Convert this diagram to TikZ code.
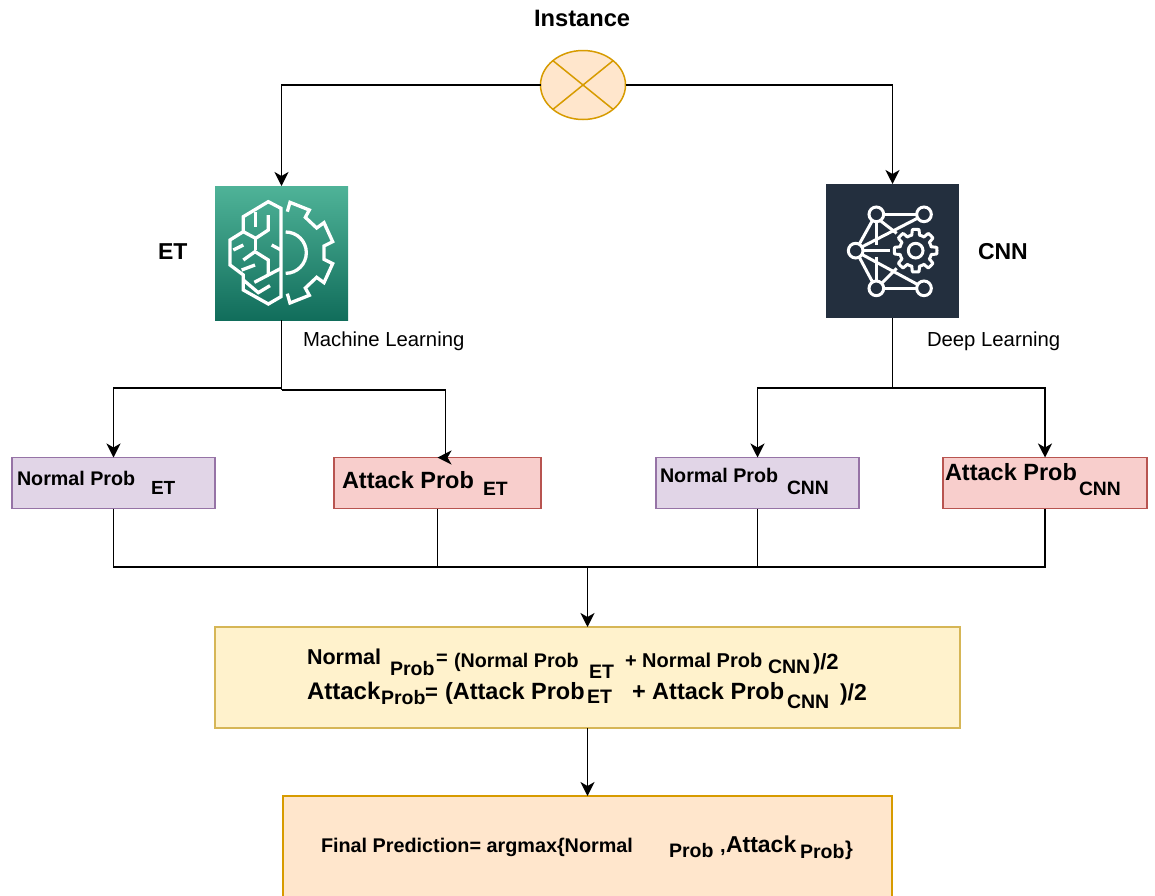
\documentclass[tikz,border=0pt]{standalone}
\usepackage{fontspec}
\setmainfont{Liberation Sans}
\usetikzlibrary{arrows.meta,shapes.geometric}
\definecolor{purpF}{HTML}{E1D5E7}\definecolor{purpD}{HTML}{9673A6}
\definecolor{redF}{HTML}{F8CECC}\definecolor{redD}{HTML}{B85450}
\definecolor{yelF}{HTML}{FFF2CC}\definecolor{yelD}{HTML}{D6B656}
\definecolor{oraF}{HTML}{FFE6CC}\definecolor{oraD}{HTML}{D79B00}
\definecolor{etTop}{HTML}{4FB398}\definecolor{etBot}{HTML}{116D5B}
\definecolor{cnnBg}{HTML}{232F3E}
% one text chunk: width of its slot, vertical offset, font size, text
\newcommand{\tc}[4]{\makebox[#1pt][l]{\raisebox{#2pt}{\fontsize{#3}{#3}\selectfont #4}}}
\tikzset{
  boxstyle/.style={rectangle,draw,line width=1.5pt,inner sep=0pt,outer sep=0pt},
  lbl/.style={anchor=base west,inner sep=0pt,outer sep=0pt,font=\bfseries},
  plain/.style={anchor=base west,inner sep=0pt,outer sep=0pt},
  conn/.style={draw=black,line width=1.9pt},
  arr/.style={conn,-{Stealth[length=14pt,width=14pt,inset=4pt]}},
  icon/.style={draw=white,line width=3pt,line join=miter,fill=none},
  iconb/.style={draw=white,line width=3.3pt,line join=miter,fill=none},
}
\begin{document}
\begin{tikzpicture}[x=1pt,y=-1pt]
\clip[use as bounding box] (0,0) rectangle (1155,895);
\fill[white] (0,0) rectangle (1155,895);

% instance
\node[ellipse,draw=oraD,fill=oraF,line width=1.5pt,minimum width=85pt,minimum height=69pt,inner sep=0pt,outer sep=0pt] (inst) at (583,85) {};
\draw[oraD,line width=1.5pt] (inst.39) -- (inst.219) (inst.141) -- (inst.321);
\node[lbl] (instT) at (534,26) {\fontsize{23.7}{23.7}\selectfont Instance};

% icons
\node[rectangle,minimum width=133pt,minimum height=134pt,inner sep=0pt,outer sep=0pt,top color=etTop,bottom color=etBot] (et) at (281.5,253) {};
\node[rectangle,minimum width=133pt,minimum height=134pt,inner sep=0pt,outer sep=0pt,fill=cnnBg] (cnn) at (892.5,251) {};

\begin{scope}[shift={(200,170)},x=0.3333pt,y=-0.3333pt]
  \draw[iconb] (243,115) -- (205,95) -- (130,140) -- (130,185) -- (90,210) -- (90,285) -- (130,315) -- (130,360) -- (205,402) -- (243,380) -- cycle;
  \draw[iconb] (130,185) -- (167,205) -- (205,180) -- (205,135);
  \draw[iconb] (167,125) -- (167,170);
  \draw[iconb] (167,205) -- (167,240);
  \draw[iconb] (100,240) -- (130,225);
  \draw[iconb] (130,270) -- (165,245) -- (205,270) -- (205,315);
  \draw[iconb] (125,300) -- (165,285);
  \draw[iconb] (163,337) -- (243,295);
  \draw[iconb] (130,330) -- (175,368) -- (210,347);
  \draw[iconb] (215,225) -- (243,240);
  \draw[iconb] (257,186) arc[start angle=-90,end angle=90,radius=62];
  \draw[iconb] (262,125) -- (270,97) -- (328,120) -- (316,142) -- (350,174) -- (372,158) -- (398,215) -- (372,228) -- (372,268) -- (398,281) -- (372,338) -- (350,322) -- (316,354) -- (328,376) -- (270,399) -- (262,371);
\end{scope}

\begin{scope}[shift={(815,170)},x=0.3333pt,y=-0.3333pt]
  \draw[icon] (206,133) -- (305,133);
  \draw[icon] (184,155) -- (184,225);
  \draw[icon] (133,222) -- (172,152);
  \draw[icon] (142,230) -- (307,145);
  \draw[icon] (196,152) -- (245,190);
  \draw[icon] (145,242) -- (225,242);
  \draw[icon] (142,254) -- (307,343);
  \draw[icon] (184,260) -- (184,333);
  \draw[icon] (200,340) -- (245,295);
  \draw[icon] (206,355) -- (305,355);
  \draw[icon] (133,262) -- (172,335);
  \draw[icon] (184,133) circle[radius=22];
  \draw[icon] (327,133) circle[radius=22];
  \draw[icon] (122,242) circle[radius=22];
  \draw[icon] (184,355) circle[radius=22];
  \draw[icon] (327,355) circle[radius=22];
  \draw[icon] (302,242) circle[radius=22];
  \draw[icon] plot[domain=0:360,samples=193,variable=\t] ({302+(56+8*max(-1,min(1,3*cos(8*\t))))*cos(\t)},{242+(56+8*max(-1,min(1,3*cos(8*\t))))*sin(\t)}) -- cycle;
\end{scope}

\node[lbl] (etT) at (158,259) {\fontsize{23}{23}\selectfont ET};
\node[lbl] (cnnT) at (978,259) {\fontsize{23}{23}\selectfont CNN};
\node[plain] (etS) at (303,346) {\fontsize{20.3}{20.3}\selectfont Machine Learning};
\node[plain] (cnnS) at (927,346) {\fontsize{20.3}{20.3}\selectfont Deep Learning};

% probability boxes
\node[boxstyle,draw=purpD,fill=purpF,minimum width=203pt,minimum height=51pt] (ne) at (113.5,483) {};
\node[boxstyle,draw=redD,fill=redF,minimum width=207pt,minimum height=51pt] (ae) at (437.5,483) {};
\node[boxstyle,draw=purpD,fill=purpF,minimum width=203pt,minimum height=51pt] (nc) at (757.5,483) {};
\node[boxstyle,draw=redD,fill=redF,minimum width=204pt,minimum height=51pt] (ac) at (1045,483) {};

\node[lbl] (neT) at (17,485) {\tc{134}{0}{19.7}{Normal Prob}\tc{26}{-9}{19}{ET}};
\node[lbl] (aeT) at (342,488) {\tc{141}{0}{23.5}{Attack Prob}\tc{26}{-7}{19.3}{ET}};
\node[lbl] (ncT) at (660,482) {\tc{127}{0}{19.7}{Normal Prob}\tc{43}{-12}{19.3}{CNN}};
\node[lbl] (acT) at (945,480) {\tc{134}{0}{23.5}{Attack Prob}\tc{43}{-15}{19.3}{CNN}};

% formula and result
\node[boxstyle,draw=yelD,fill=yelF,minimum width=745pt,minimum height=101pt] (form) at (587.5,677.5) {};
\node[boxstyle,draw=oraD,fill=oraF,minimum width=609pt,minimum height=140pt] (final) at (587.5,866) {};

\node[lbl] (f1) at (307,664) {\tc{83}{0}{21.5}{Normal}\tc{46}{-11}{19.5}{Prob}\tc{18}{0}{20}{=}\tc{135}{-3}{19.7}{(Normal Prob}\tc{36}{-14}{19.5}{ET}\tc{143}{-3}{20}{+ Normal Prob}\tc{45}{-9}{19.5}{CNN}\tc{30}{-5}{22}{)/2}};
\node[lbl] (f2) at (307,699) {\tc{74}{0}{24}{Attack}\tc{44}{-5}{19.5}{Prob}\tc{20}{0}{22}{=}\tc{142}{0}{23.5}{(Attack Prob}\tc{45}{-4}{19.5}{ET}\tc{155}{0}{23.5}{+ Attack Prob}\tc{53}{-9}{19.5}{CNN}\tc{28}{-1}{23}{)/2}};
\node[lbl] (f3) at (321,852) {\tc{348}{0}{19.8}{Final Prediction= argmax\{Normal}\tc{51}{-5}{19.5}{Prob}\tc{6}{0}{20}{,}\tc{74}{0}{23}{Attack}\tc{45}{-6}{19.5}{Prob}\tc{9}{-3}{20}{\}}};

% connectors
\coordinate (etj) at (281.5,388);
\coordinate (etk) at (281.5,390);
\coordinate (etr) at (445.5,390);
\coordinate (etd) at (445.5,457.5);
\coordinate (cnj) at (892.5,388);
\coordinate (bus) at (587.5,567);
\draw[arr] (inst.west) -| (et.north);
\draw[arr] (inst.east) -| (cnn.north);
\draw[conn] (et.south) -- (etk);
\draw[arr] (etj) -| (ne.north);
\draw[conn] (etk) -- (etr) -- (etd);
\draw[arr] (etr) -- (etd) -- (ae.north);
\draw[conn] (cnn.south) -- (cnj);
\draw[arr] (cnj) -| (nc.north);
\draw[arr] (cnj) -| (ac.north);
\draw[conn] (ne.south) |- (bus);
\draw[conn] (ae.south) |- (bus);
\draw[conn] (nc.south) |- (bus);
\draw[conn] (ac.south) |- (bus);
\draw[arr] (bus) -- (form.north);
\draw[arr] (form.south) -- (final.north);
\end{tikzpicture}
\end{document}
